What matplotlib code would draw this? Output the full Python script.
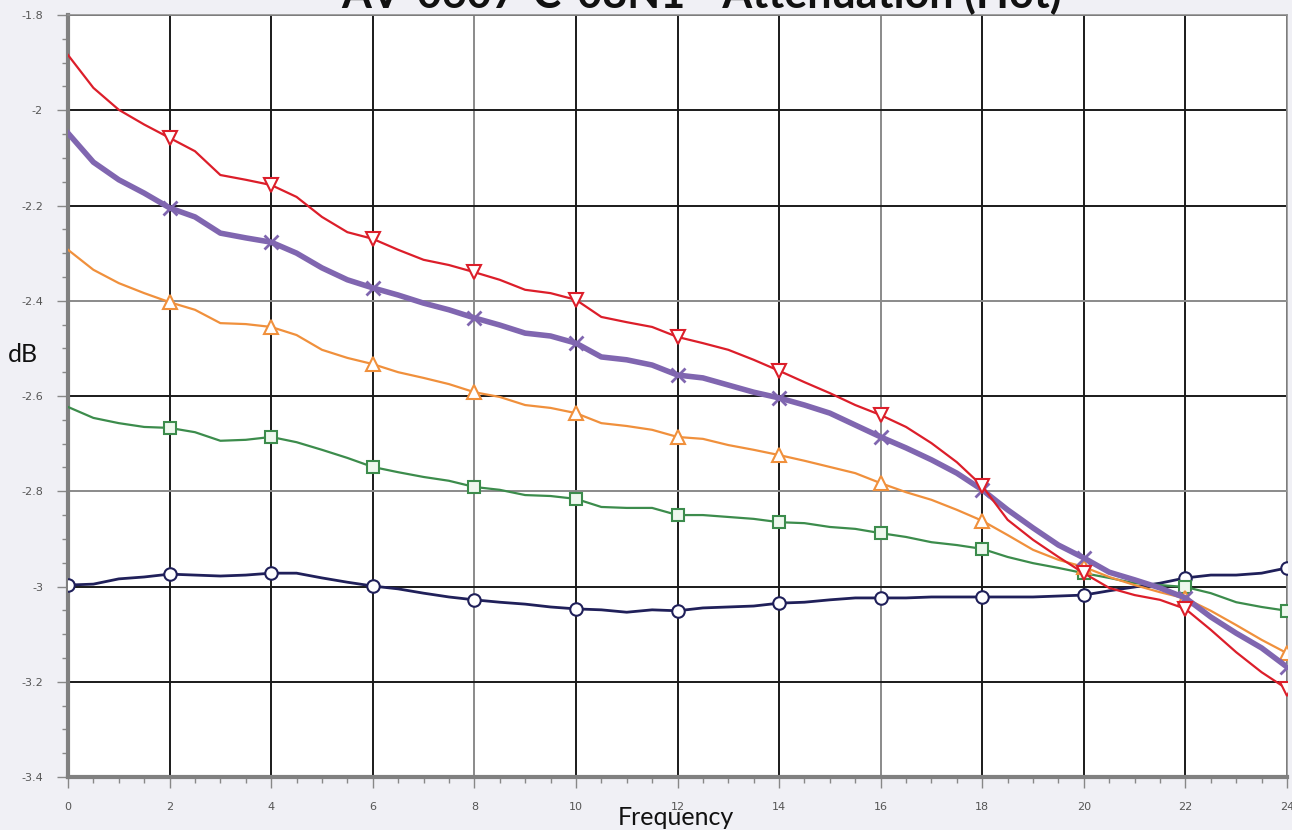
from matplotlib import pyplot as plt
from matplotlib.ticker import MultipleLocator
import numpy as np

# frecuencia cada 0.5
freq = np.arange(0, 24.01, 0.5)

red_vals = [-1.884, -1.953, -1.999, -2.030, -2.058, -2.086, -2.136, -2.146, -2.157, -2.182,
            -2.224, -2.256, -2.270, -2.293, -2.314, -2.325, -2.340, -2.356, -2.377, -2.384,
            -2.398, -2.434, -2.445, -2.455, -2.476, -2.489, -2.503, -2.524, -2.547, -2.571,
            -2.594, -2.619, -2.640, -2.665, -2.699, -2.739, -2.789, -2.860, -2.902, -2.938,
            -2.972, -3.003, -3.018, -3.028, -3.047, -3.091, -3.138, -3.180, -3.215]

purple_vals = [-2.048, -2.109, -2.146, -2.174, -2.205, -2.224, -2.258, -2.268, -2.277, -2.300,
               -2.331, -2.356, -2.373, -2.388, -2.405, -2.419, -2.436, -2.451, -2.468, -2.474,
               -2.489, -2.518, -2.524, -2.535, -2.556, -2.562, -2.577, -2.592, -2.604, -2.619,
               -2.636, -2.661, -2.686, -2.709, -2.734, -2.762, -2.797, -2.839, -2.877, -2.913,
               -2.940, -2.970, -2.986, -3.003, -3.024, -3.064, -3.098, -3.129, -3.169]

orange_vals = [-2.293, -2.335, -2.363, -2.384, -2.403, -2.419, -2.447, -2.449, -2.455, -2.472,
               -2.503, -2.520, -2.533, -2.550, -2.562, -2.575, -2.592, -2.602, -2.619, -2.625,
               -2.636, -2.657, -2.663, -2.671, -2.686, -2.690, -2.703, -2.713, -2.724, -2.736,
               -2.749, -2.762, -2.783, -2.802, -2.818, -2.839, -2.862, -2.892, -2.923, -2.944,
               -2.959, -2.980, -2.997, -3.012, -3.025, -3.051, -3.081, -3.112, -3.140]

green_vals = [-2.623, -2.646, -2.657, -2.665, -2.667, -2.676, -2.694, -2.692, -2.686, -2.697,
              -2.713, -2.730, -2.749, -2.760, -2.770, -2.778, -2.791, -2.797, -2.808, -2.810,
              -2.816, -2.833, -2.835, -2.835, -2.850, -2.850, -2.854, -2.858, -2.865, -2.867,
              -2.875, -2.879, -2.888, -2.896, -2.907, -2.913, -2.921, -2.938, -2.951, -2.961,
              -2.972, -2.982, -2.993, -2.997, -3.001, -3.014, -3.033, -3.043, -3.051]

navy_vals = [-2.997, -2.995, -2.984, -2.980, -2.974, -2.976, -2.978, -2.976, -2.972, -2.972,
             -2.982, -2.991, -2.999, -3.005, -3.014, -3.022, -3.028, -3.033, -3.037, -3.043,
             -3.047, -3.049, -3.054, -3.049, -3.051, -3.045, -3.043, -3.041, -3.035, -3.033,
             -3.028, -3.024, -3.024, -3.024, -3.022, -3.022, -3.022, -3.022, -3.022, -3.020,
             -3.018, -3.009, -3.001, -2.993, -2.982, -2.976, -2.976, -2.972, -2.961]

bg = '#f0f0f5'
fig = plt.figure(figsize=(12.92, 8.30), dpi=100, facecolor=bg)
ax = fig.add_axes([68 / 1292, 1 - 777 / 830, (1287 - 68) / 1292, (777 - 15) / 830])
ax.set_facecolor('white')

# marcadores en las frecuencias pares (cada 4 puntos)
ax.plot(freq, navy_vals, color='#20205a', lw=2, marker='o', markersize=9,
        markerfacecolor='white', markeredgecolor='#20205a', markeredgewidth=1.5,
        markevery=slice(0, None, 4), zorder=3)
ax.plot(freq, green_vals, color='#3c8c4c', lw=1.6, marker='s', markersize=9,
        markerfacecolor='#eef8ee', markeredgecolor='#3c8c4c', markeredgewidth=1.5,
        markevery=slice(4, None, 4), zorder=3)
ax.plot(freq, orange_vals, color='#f0903c', lw=1.6, marker='^', markersize=10,
        markerfacecolor='white', markeredgecolor='#f0903c', markeredgewidth=1.5,
        markevery=slice(4, None, 4), zorder=3)
ax.plot(freq, purple_vals, color='#8066b0', lw=4, marker='x', markersize=10,
        markeredgecolor='#8066b0', markeredgewidth=2,
        markevery=slice(4, None, 4), zorder=4)
ax.plot(freq, red_vals, color='#dc1e2a', lw=1.6, marker='v', markersize=10,
        markerfacecolor='white', markeredgecolor='#dc1e2a', markeredgewidth=1.5,
        markevery=slice(4, None, 4), zorder=5)

ax.set_xlim(0, 24)
ax.set_ylim(-3.4, -1.8)
ax.xaxis.set_major_locator(MultipleLocator(2))
ax.xaxis.set_minor_locator(MultipleLocator(0.5))
ax.yaxis.set_major_locator(MultipleLocator(0.2))
ax.yaxis.set_minor_locator(MultipleLocator(0.05))
ax.yaxis.set_major_formatter(plt.FuncFormatter(lambda v, p: ('%g' % round(v, 1))))

ax.grid(True, which='major', color='#1a1a1a', lw=1.4)
ax.set_axisbelow(True)
for line, v in zip(ax.get_xgridlines(), ax.get_xticks()):
    if round(v) in (8, 16):
        line.set_color('#8a8a8a')
for line, v in zip(ax.get_ygridlines(), ax.get_yticks()):
    if round(v, 1) in (-2.4, -2.8):
        line.set_color('#8a8a8a')

ax.tick_params(which='major', length=8, width=1, color='#888888',
               labelsize=8, labelcolor='#555555', pad=10)
ax.tick_params(which='minor', length=4, width=1, color='#888888')
for side in ['left', 'bottom']:
    ax.spines[side].set_color('#808080')
    ax.spines[side].set_linewidth(3)
for side in ['top', 'right']:
    ax.spines[side].set_color('#909090')
    ax.spines[side].set_linewidth(1.2)

# el titulo esta cortado arriba en la imagen original
fig.text(702 / 1292, 1 - 8 / 830, 'AV-0607-C-08N1 - Attenuation (Hot)', ha='center',
         va='baseline', fontsize=31, fontweight='bold', family='Lato', color='#111111')
fig.text(676 / 1292, 1 - 825 / 830, 'Frequency', ha='center', va='baseline',
         fontsize=18, family='Lato', color='#111111')
fig.text(8 / 1292, 1 - 362 / 830, 'dB', ha='left', va='baseline',
         fontsize=18, family='Lato', color='#111111')

fig.savefig('out.png', dpi=100, facecolor=bg)
